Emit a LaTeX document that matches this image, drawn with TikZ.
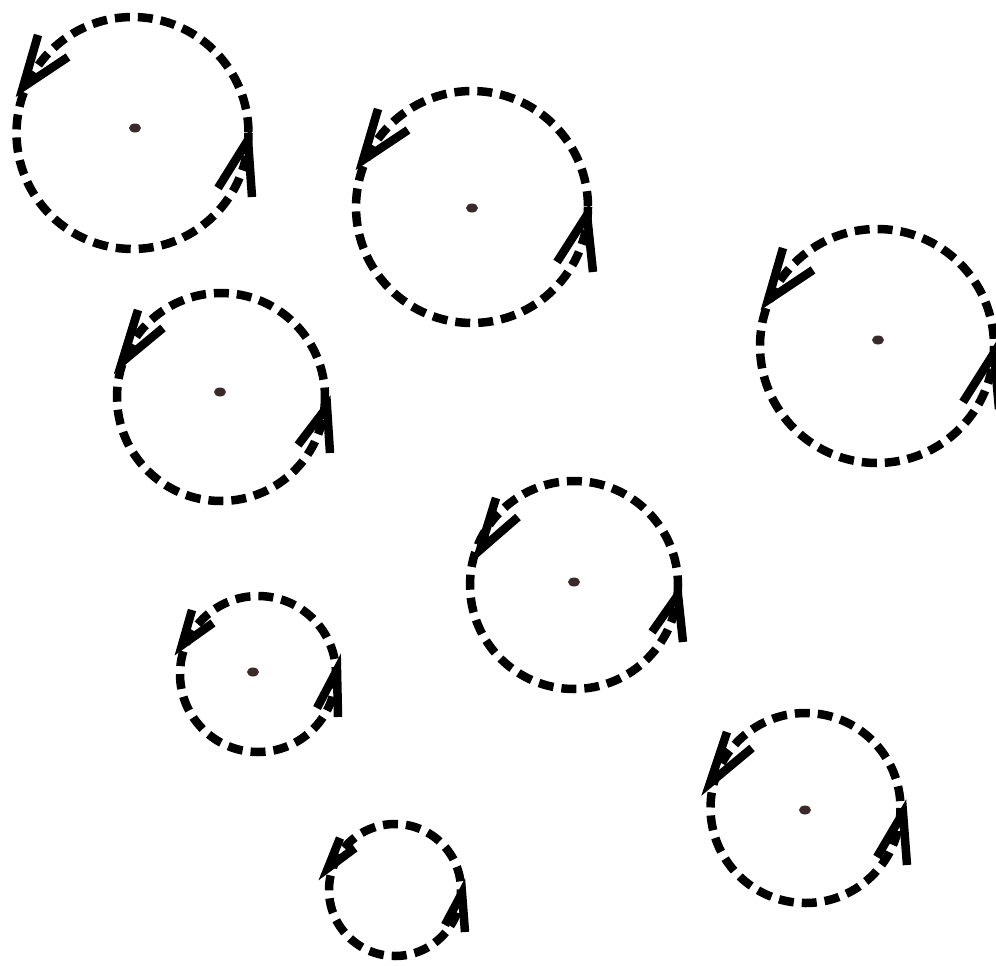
\documentclass[tikz,border=0pt]{standalone}
\usetikzlibrary{shapes.geometric}
\definecolor{dotbrown}{HTML}{3B2A2A}
\tikzset{
  ring/.style={line width=8.5pt, dash pattern=on 15pt off 8pt, black},
  vstroke/.style={line width=8.5pt, black, line cap=butt, line join=miter},
  centredot/.style={ellipse, fill=dotbrown, minimum width=12pt, minimum height=9pt, inner sep=0pt}
}
\begin{document}
\begin{tikzpicture}[x=1pt,y=-1pt]
\useasboundingbox (0,0) rectangle (996,966);
% centres
\node[centredot] (d1) at (135,128) {};
\node[centredot] (d2) at (472,208) {};
\node[centredot] (d3) at (878,340) {};
\node[centredot] (d4) at (220,392) {};
\node[centredot] (d5) at (574,582) {};
\node[centredot] (d6) at (253,672) {};
\node[centredot] (d7) at (805,810) {};
\coordinate (c1) at (132.5,133);
\coordinate (c2) at (472,207);
\coordinate (c3) at (877,346);
\coordinate (c4) at (221,397);
\coordinate (c5) at (574,585);
\coordinate (c6) at (258,674);
\coordinate (c7) at (805.5,808);
\coordinate (c8) at (395,890);
% rings
\draw[ring] (c1) circle (116);
\draw[ring] (c2) circle (116);
\draw[ring] (c3) circle (117);
\draw[ring] (c4) circle (104);
\draw[ring] (c5) circle (104);
\draw[ring] (c6) circle (78);
\draw[ring] (c7) circle (95);
\draw[ring] (c8) circle (66);
% arrowheads, upper left
\draw[vstroke] (38,35) -- (23,87) -- (68,57);
\draw[vstroke] (378,109) -- (363,160) -- (408,130);
\draw[vstroke] (783,248) -- (768,300) -- (813,270);
\draw[vstroke] (138,310) -- (122,362) -- (163,328);
\draw[vstroke] (496,498) -- (480,550) -- (518,517);
\draw[vstroke] (192,610) -- (182,645) -- (213,623);
\draw[vstroke] (727,732) -- (710,783) -- (752,748);
\draw[vstroke] (340,838) -- (328,868) -- (355,848);
% arrowheads, right
\draw[vstroke] (252,197) -- (248,140) -- (218,188);
\draw[vstroke] (593,272) -- (587,215) -- (557,262);
\draw[vstroke] (999,409) -- (994,353) -- (963,402);
\draw[vstroke] (330,453) -- (327,407) -- (298,445);
\draw[vstroke] (683,642) -- (678,595) -- (652,632);
\draw[vstroke] (338,717) -- (337,670) -- (317,708);
\draw[vstroke] (907,865) -- (903,813) -- (877,857);
\draw[vstroke] (465,932) -- (462,893) -- (445,925);
\end{tikzpicture}
\end{document}
